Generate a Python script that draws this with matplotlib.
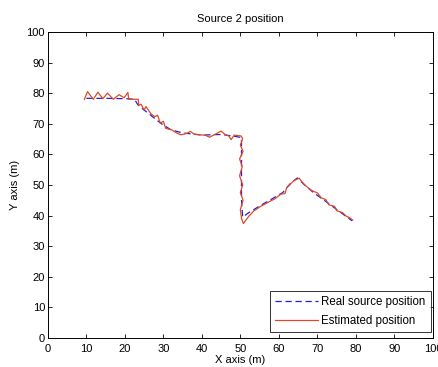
import matplotlib
matplotlib.use('Agg')
import matplotlib.pyplot as plt

plt.rcParams['font.family'] = ['Liberation Sans', 'DejaVu Sans']

# Real source trajectory
real_x = [10, 15, 20, 22.5, 23.5, 25, 27.5, 29.5, 32, 35, 40, 45, 48, 50.3, 50.3,
          50.3, 50.6, 52, 55.5, 58, 61, 63, 64.8, 66.5, 69, 72, 75, 77.5, 79]
real_y = [78.3, 78.3, 78.2, 78, 76, 74.5, 72, 70, 68, 67, 66.3, 66.5, 66, 65.5, 55,
          45, 39.5, 40.8, 43.5, 45.3, 47.5, 50.5, 52.3, 50.2, 47.5, 44.8, 42, 39.7, 38.3]

# Estimated trajectory
est_x = [9.5, 10.3, 11.8, 13, 14.3, 15.5, 17, 18.5, 19.8, 20.8, 21, 23.5, 23.6, 24.2,
         25, 25.5, 26.8, 27.8, 28.5, 29.2, 30, 30.6, 32.2, 33, 34.5, 36, 37, 38, 41,
         42, 43.5, 45, 46, 47, 47.6, 48.4, 50.2, 50.6, 50, 50.7, 49.8, 50.5, 49.8,
         50.6, 50, 50.7, 50, 50.3, 50.8, 52.2, 53.5, 55, 57, 59, 60.5, 61.6, 62, 63,
         64, 65.3, 66, 67, 68.5, 70, 71, 72.2, 73, 74.5, 75, 76.5, 77.5, 78.5, 79.2]
est_y = [78, 80.5, 78, 80.3, 78.2, 80, 78, 79.5, 78.5, 80.2, 78, 78, 76, 76.4,
         74.5, 75.6, 73.2, 72.3, 72.8, 70.2, 70.8, 68.5, 68, 67.3, 66.4, 66.8, 67.5,
         66.6, 66.2, 65.6, 66.6, 67.6, 66.5, 66, 64.8, 66.3, 66, 65.2, 63, 61, 58.5,
         56, 53, 50, 47.5, 45, 42, 39, 37.4, 39.8, 41.5, 42.8, 44.2, 45.5, 47, 47.2,
         49, 50.3, 51.5, 52.2, 51, 49.7, 48.2, 47.4, 45.8, 45.2, 43.5, 43, 41.6, 41,
         39.8, 39.2, 38.5]

ticks = list(range(0, 101, 10))

fig = plt.figure(figsize=(4.39, 3.67), dpi=100)
ax = fig.add_axes([0.109, 0.079, 0.877, 0.834])

ax.plot(real_x, real_y, '--', color='#1f1fdc', lw=0.9, dashes=(5, 3),
        label='Real source position')
ax.plot(est_x, est_y, '-', color='#dc4a28', lw=0.9, label='Estimated position')

ax.set_xlim(0, 100)
ax.set_ylim(0, 100)
ax.set_xticks(ticks)
ax.set_yticks(ticks)
ax.tick_params(direction='in', top=True, right=True, labelsize=8,
               length=3, width=0.6, pad=2)
ax.tick_params(axis='x', pad=4)
for s in ax.spines.values():
    s.set_linewidth(0.7)

ax.set_title('Source 2 position', fontsize=8, pad=7)
ax.set_xlabel('X axis (m)', fontsize=8, labelpad=1)
ax.set_ylabel('Y axis (m)', fontsize=8, labelpad=5)

leg = ax.legend(loc='lower right', bbox_to_anchor=(0.995, 0.02), fontsize=8.3,
                frameon=True, fancybox=False, borderaxespad=0, handlelength=3.7,
                borderpad=0.45, labelspacing=0.55, handletextpad=0.3)
leg.get_frame().set_edgecolor('black')
leg.get_frame().set_linewidth(0.7)

fig.savefig('out.png', dpi=100, facecolor='white')
